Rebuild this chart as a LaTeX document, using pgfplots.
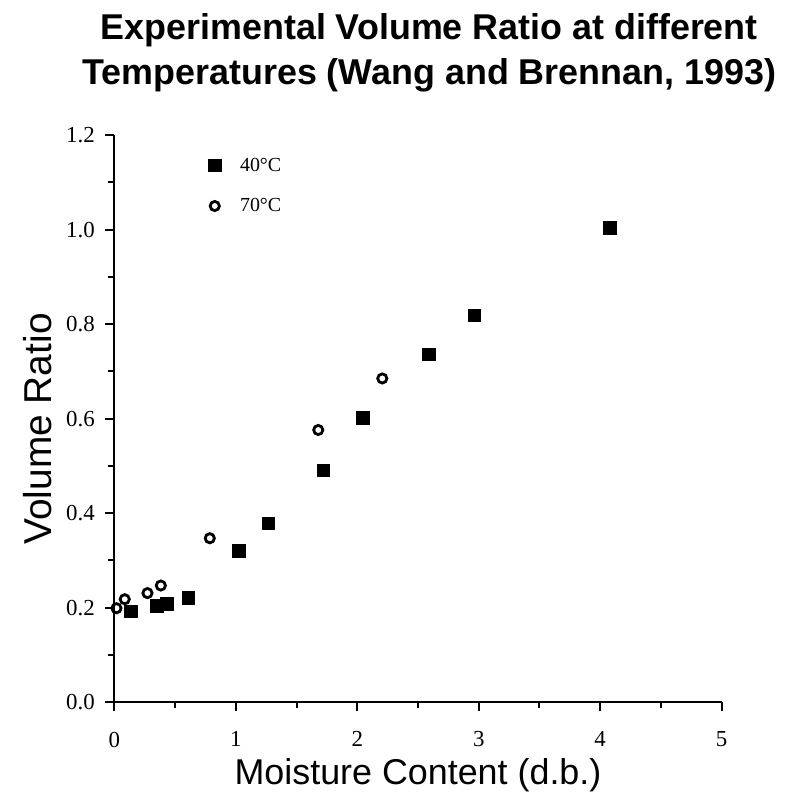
\documentclass[border=0pt]{standalone}
\usepackage{pgfplots}
\pgfplotsset{compat=1.18}
\usepackage{fontspec}
\setmainfont{Liberation Serif}
\newfontfamily\arial{Liberation Sans}
\begin{document}
\begin{tikzpicture}
\useasboundingbox (-114.3bp,-98.7bp) rectangle (683.7bp,702.3bp);
\begin{axis}[
  scale only axis,
  width=607.4bp, height=567.3bp,
  xmin=0, xmax=5, ymin=0, ymax=1.2,
  axis x line=bottom, axis y line=left,
  axis line style={line width=2.2bp, -},
  tick style={line width=2bp, black},
  tick align=outside,
  major tick length=9bp, minor tick length=6bp,
  xtick={0,1,2,3,4,5},
  minor xtick={0.5,1.5,2.5,3.5,4.5},
  ytick={0,0.2,0.4,0.6,0.8,1.0,1.2},
  minor ytick={0.1,0.3,0.5,0.7,0.9,1.1},
  /pgf/number format/assume math mode=true,
  every tick label/.append style={font=\fontsize{23}{27}\selectfont},
  xticklabel style={font=\fontsize{23}{27}\selectfont, yshift=-17bp},
  yticklabel style={font=\fontsize{23}{27}\selectfont, xshift=-7bp,
    /pgf/number format/fixed, /pgf/number format/fixed zerofill, /pgf/number format/precision=1},
  title={Experimental Volume Ratio at different\\Temperatures (Wang and Brennan, 1993)},
  title style={at={(rel axis cs:0.5186,1.134)}, anchor=center, align=center,
    font=\arial\bfseries\fontsize{36}{45}\selectfont},
  xlabel={Moisture Content (d.b.)},
  xlabel style={at={(rel axis cs:0.5,-0.128)}, anchor=center, font=\arial\fontsize{36}{43}\selectfont},
  ylabel={Volume Ratio},
  ylabel style={at={(rel axis cs:-0.127,0.482)}, anchor=center, rotate=0, font=\arial\fontsize{39}{46}\selectfont},
  legend style={draw=none, fill=none, at={(rel axis cs:0.1498,0.967)}, anchor=north west,
    font=\fontsize{20}{24}\selectfont, row sep=22bp, column sep=17bp},
  legend cell align=left,
]
\addplot[only marks, mark=square*, mark size=6.3bp, black] coordinates {
(0.136,0.193) (0.347,0.204) (0.43,0.208) (0.607,0.221) (1.025,0.321)
(1.266,0.379) (1.72,0.491) (2.044,0.602) (2.588,0.736) (2.964,0.819) (4.08,1.004)
};
\addlegendentry{40\textdegree C}
\addplot[only marks, mark=o, mark size=4.6bp, line width=2.8bp, black] coordinates {
(0.018,0.199) (0.086,0.218) (0.273,0.231) (0.383,0.247) (0.786,0.347)
(1.679,0.576) (2.206,0.685)
};
\addlegendentry{70\textdegree C}
\end{axis}
\end{tikzpicture}
\end{document}
